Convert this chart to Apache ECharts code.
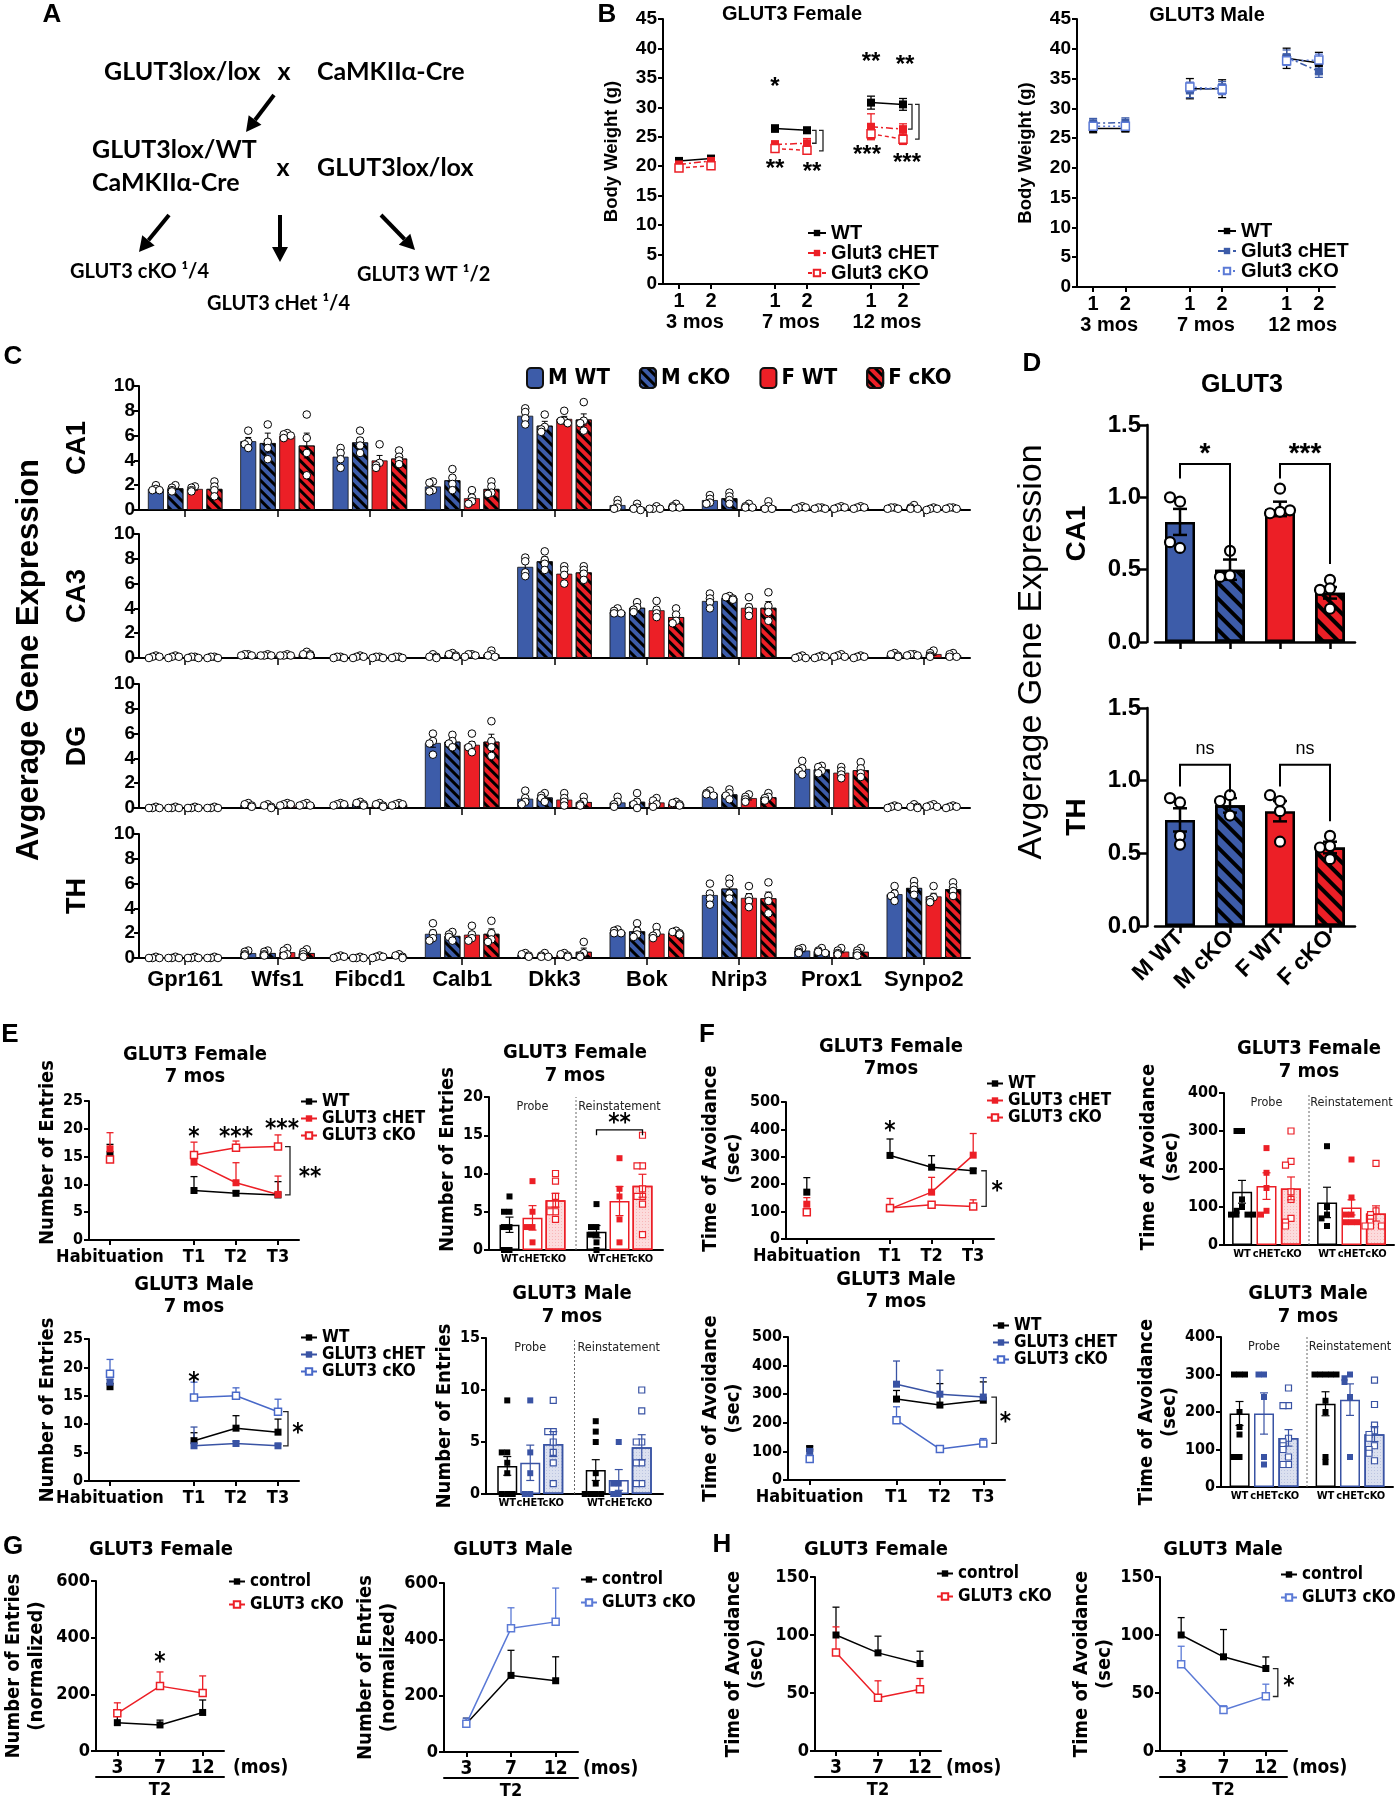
<!DOCTYPE html>
<html><head><meta charset="utf-8"><title>GLUT3 figure</title>
<script src="https://cdn.jsdelivr.net/npm/echarts@6/dist/echarts.min.js"></script>
<style>html,body{margin:0;padding:0;background:#fff;}#chart{width:1397px;height:1800px;}</style>
</head><body><div id="chart"></div>
<script>
// ======================= DATA =======================
// Panel A
const crossTop = ['GLUT3lox/lox', 'x', 'CaMKIIα-Cre'];
const crossMid = ['GLUT3lox/WT', 'CaMKIIα-Cre', 'x', 'GLUT3lox/lox'];
const offspring = ['GLUT3 cKO ¹/4', 'GLUT3 cHet ¹/4', 'GLUT3 WT ¹/2'];

// Panel B (body weight)
const bCats = ['1', '2', '', '1', '2', '', '1', '2'];
const bGroupLabels = ['3 mos', '7 mos', '12 mos'];
const bGroupPos = [1, 4, 7];
const bFemWT = [20.9, 21.3, null, 26.4, 26.1, null, 30.8, 30.5];
const bFemWTErr = [0.4, 0.4, null, 0.6, 0.5, null, 1.1, 1.0];
const bFemHET = [20.3, 20.9, null, 23.7, 23.9, null, 26.7, 26.3];
const bFemHETErr = [0.5, 0.4, null, 0.6, 0.8, null, 2.2, 0.9];
const bFemKO = [19.7, 20.1, null, 23.0, 22.7, null, 25.5, 24.6];
const bFemKOErr = [0.4, 0.4, null, 0.4, 0.5, null, 0.8, 0.9];
const bMalWT = [26.6, 26.6, null, 33.3, 33.3, null, 38.4, 37.6];
const bMalWTErr = [0.7, 0.5, null, 1.7, 1.5, null, 1.7, 1.8];
const bMalHET = [27.5, 27.6, null, 33.0, 33.5, null, 38.6, 36.2];
const bMalHETErr = [0.8, 0.8, null, 1.2, 1.0, null, 1.2, 1.0];
const bMalKO = [27.0, 27.0, null, 33.6, 33.2, null, 38.0, 38.1];
const bMalKOErr = [0.6, 0.6, null, 0.8, 0.9, null, 0.8, 1.0];

// Panel C (per gene: [M WT, M cKO, F WT, F cKO])
const genes = ['Gpr161', 'Wfs1', 'Fibcd1', 'Calb1', 'Dkk3', 'Bok', 'Nrip3', 'Prox1', 'Synpo2'];
const cGroups = ['M WT', 'M cKO', 'F WT', 'F cKO'];
const regions = ['CA1', 'CA3', 'DG', 'TH'];
const cMeanCA1 = [[1.7,1.75,1.7,1.7],[5.55,5.4,6.0,5.2],[4.3,5.45,4.0,4.15],[1.9,2.4,0.95,1.7],[7.6,6.8,7.35,7.3],[0.4,0.2,0.15,0.3],[0.8,0.95,0.3,0.3],[0.2,0.15,0.2,0.2],[0.15,0.2,0.1,0.15]];
const cSemCA1 = [[0.1,0.1,0.1,0.25],[0.3,0.8,0.1,1.0],[0.35,0.4,0.4,0.25],[0.2,0.35,0.25,0.25],[0.3,0.35,0.2,0.45],[0.15,0.1,0.05,0.07],[0.15,0.2,0.07,0.15],[0.05,0.05,0.05,0.05],[0.05,0.05,0.05,0.05]];
const cDotsCA1 = [
 [[2.0,1.7,1.6,1.6],[2.0,1.8,1.6,1.5],[1.9,1.8,1.6,1.5],[2.3,1.9,1.6,1.1]],
 [[6.4,5.5,5.3,5.0],[6.9,5.5,5.0,4.1],[6.2,6.1,6.0,5.8],[7.7,5.8,4.6,2.8]],
 [[5.0,4.6,4.1,3.4],[6.4,5.6,5.2,4.6],[5.3,3.8,3.6,3.4],[4.8,4.3,4.0,3.7]],
 [[2.3,2.2,1.6,1.5],[3.3,2.6,2.1,1.6],[1.6,1.0,0.7,0.5],[2.3,1.9,1.4,1.3]],
 [[8.2,7.9,7.4,6.9],[7.7,6.7,6.5,6.3],[8.0,7.2,7.2,7.0],[8.7,7.2,7.0,6.4]],
 [[0.8,0.5,0.2,0.1],[0.5,0.2,0.1,0.0],[0.3,0.1,0.1,0.1],[0.5,0.3,0.2,0.2]],
 [[1.2,0.9,0.6,0.5],[1.4,1.1,0.8,0.5],[0.5,0.3,0.2,0.2],[0.7,0.3,0.1,0.1]],
 [[0.3,0.2,0.2,0.1],[0.2,0.2,0.1,0.1],[0.3,0.2,0.2,0.1],[0.3,0.2,0.2,0.1]],
 [[0.2,0.2,0.1,0.1],[0.4,0.2,0.1,0.1],[0.2,0.1,0.1,0.0],[0.2,0.2,0.1,0.1]]];
const cMeanCA3 = [[0.1,0.1,0.05,0.05],[0.25,0.22,0.22,0.32],[0.05,0.1,0.05,0.05],[0.12,0.25,0.22,0.3],[7.35,7.8,6.8,6.9],[3.75,4.05,3.85,3.3],[4.6,4.85,4.05,4.05],[0.08,0.1,0.18,0.1],[0.25,0.25,0.32,0.22]];
const cSemCA3 = [[0.04,0.03,0.03,0.03],[0.03,0.03,0.03,0.07],[0.03,0.04,0.03,0.03],[0.07,0.07,0.05,0.1],[0.35,0.35,0.3,0.25],[0.1,0.2,0.25,0.25],[0.25,0.1,0.3,0.5],[0.05,0.05,0.05,0.05],[0.07,0.03,0.1,0.07]];
const cDotsCA3 = [
 [[0.2,0.1,0.1,0.0],[0.2,0.1,0.1,0.0],[0.1,0.1,0.0,0.0],[0.1,0.1,0.0,0.0]],
 [[0.3,0.3,0.2,0.2],[0.3,0.2,0.2,0.2],[0.3,0.2,0.2,0.2],[0.5,0.3,0.3,0.2]],
 [[0.1,0.1,0.0,0.0],[0.2,0.1,0.1,0.0],[0.1,0.1,0.0,0.0],[0.1,0.1,0.0,0.0]],
 [[0.3,0.1,0.1,0.0],[0.4,0.3,0.2,0.1],[0.3,0.3,0.2,0.1],[0.6,0.3,0.2,0.1]],
 [[8.1,7.8,6.9,6.6],[8.6,7.9,7.6,7.1],[7.4,7.1,6.7,6.0],[7.4,7.1,6.8,6.3]],
 [[4.0,3.8,3.6,3.6],[4.5,4.1,3.9,3.7],[4.6,3.9,3.6,3.3],[4.0,3.5,3.0,2.8]],
 [[5.2,4.8,4.5,4.0],[5.0,4.9,4.8,4.7],[4.9,4.1,3.8,3.4],[5.3,4.2,3.7,3.0]],
 [[0.2,0.1,0.0,0.0],[0.2,0.1,0.1,0.0],[0.3,0.2,0.1,0.1],[0.2,0.1,0.1,0.0]],
 [[0.4,0.3,0.2,0.1],[0.3,0.3,0.2,0.2],[0.6,0.4,0.2,0.1],[0.4,0.3,0.1,0.1]]];
const cMeanDG = [[0.03,0.03,0.03,0.03],[0.25,0.15,0.3,0.28],[0.3,0.35,0.25,0.3],[5.25,5.35,5.1,5.35],[0.75,0.85,0.68,0.48],[0.45,0.5,0.45,0.35],[1.17,1.1,0.8,0.87],[3.15,3.12,2.85,3.05],[0.1,0.12,0.18,0.1]];
const cSemDG = [[0.02,0.02,0.02,0.02],[0.06,0.06,0.04,0.04],[0.04,0.06,0.04,0.04],[0.35,0.2,0.25,0.6],[0.25,0.15,0.2,0.15],[0.15,0.25,0.15,0.07],[0.1,0.15,0.15,0.12],[0.25,0.13,0.2,0.25],[0.04,0.06,0.05,0.04]];
const cDotsDG = [
 [[0.1,0.0,0.0,0.0],[0.1,0.0,0.0,0.0],[0.1,0.0,0.0,0.0],[0.1,0.0,0.0,0.0]],
 [[0.4,0.3,0.2,0.1],[0.3,0.2,0.1,0.0],[0.4,0.3,0.3,0.2],[0.4,0.3,0.2,0.2]],
 [[0.4,0.3,0.3,0.2],[0.5,0.4,0.3,0.2],[0.4,0.3,0.2,0.1],[0.4,0.3,0.3,0.2]],
 [[6.0,5.4,5.2,4.3],[5.9,5.4,5.2,4.9],[6.0,5.1,4.9,4.5],[7.0,5.4,4.9,4.2]],
 [[1.4,0.8,0.5,0.3],[1.2,1.0,0.8,0.5],[1.2,0.8,0.5,0.2],[0.9,0.5,0.3,0.2]],
 [[0.9,0.5,0.3,0.1],[1.2,0.5,0.3,0.0],[0.8,0.6,0.3,0.1],[0.5,0.4,0.3,0.2]],
 [[1.4,1.2,1.1,1.0],[1.5,1.2,1.0,0.7],[1.1,0.9,0.7,0.5],[1.2,0.9,0.8,0.6]],
 [[3.8,3.2,3.0,2.7],[3.4,3.3,3.0,2.8],[3.3,3.0,2.7,2.4],[3.7,3.2,2.8,2.5]],
 [[0.2,0.1,0.1,0.0],[0.3,0.1,0.1,0.0],[0.3,0.2,0.1,0.1],[0.2,0.1,0.1,0.0]]];
const cMeanTH = [[0.02,0.02,0.02,0.02],[0.4,0.4,0.47,0.4],[0.1,0.03,0.1,0.15],[1.95,1.78,1.88,1.95],[0.25,0.2,0.25,0.5],[2.12,2.15,1.97,2.05],[5.08,5.6,4.85,4.82],[0.6,0.57,0.52,0.5],[5.15,5.65,4.97,5.55]];
const cSemTH = [[0.02,0.02,0.02,0.02],[0.08,0.08,0.13,0.12],[0.04,0.02,0.04,0.06],[0.3,0.15,0.25,0.4],[0.06,0.06,0.06,0.3],[0.1,0.25,0.2,0.07],[0.35,0.35,0.35,0.5],[0.1,0.1,0.1,0.13],[0.25,0.2,0.25,0.22]];
const cDotsTH = [
 [[0.1,0.0,0.0,0.0],[0.1,0.0,0.0,0.0],[0.1,0.0,0.0,0.0],[0.1,0.0,0.0,0.0]],
 [[0.6,0.5,0.3,0.2],[0.6,0.5,0.3,0.2],[0.8,0.6,0.3,0.2],[0.7,0.5,0.3,0.1]],
 [[0.2,0.1,0.1,0.0],[0.1,0.0,0.0,0.0],[0.2,0.1,0.1,0.0],[0.3,0.2,0.1,0.0]],
 [[2.8,2.0,1.6,1.4],[2.1,1.9,1.7,1.4],[2.6,1.9,1.6,1.4],[3.0,2.0,1.5,1.3]],
 [[0.4,0.3,0.2,0.1],[0.4,0.2,0.1,0.1],[0.4,0.3,0.2,0.1],[1.3,0.4,0.2,0.1]],
 [[2.3,2.2,2.0,2.0],[2.8,2.2,1.9,1.7],[2.5,2.0,1.8,1.6],[2.2,2.1,2.0,1.9]],
 [[6.0,5.2,4.8,4.3],[6.4,6.0,5.2,4.8],[5.8,4.9,4.6,4.1],[6.1,5.0,4.6,3.6]],
 [[0.8,0.7,0.5,0.4],[0.8,0.6,0.5,0.4],[0.8,0.6,0.4,0.3],[0.8,0.6,0.4,0.2]],
 [[5.8,5.2,5.0,4.6],[6.2,5.8,5.5,5.1],[5.8,4.9,4.7,4.5],[6.1,5.7,5.4,5.0]]];

// Panel D
const dCats = ['M WT', 'M cKO', 'F WT', 'F cKO'];
const dCA1Mean = [0.83, 0.50, 0.92, 0.34];
const dCA1Err = [0.09, 0.07, 0.05, 0.04];
const dCA1Dots = [[0.97, 1.0, 0.65, 0.69], [0.63, 0.46, 0.45], [1.06, 0.9, 0.89, 0.91], [0.43, 0.37, 0.36, 0.23]];
const dTHMean = [0.73, 0.83, 0.79, 0.54];
const dTHErr = [0.08, 0.05, 0.07, 0.04];
const dTHDots = [[0.85, 0.88, 0.62, 0.56], [0.9, 0.86, 0.76], [0.86, 0.9, 0.79, 0.58], [0.62, 0.55, 0.54, 0.46]];

// Panel E / F line charts
const lineCats = ['Habituation', '', 'T1', 'T2', 'T3'];
const eFemWT = [15.4, null, 8.9, 8.4, 8.1],   eFemWTErr = [1.8, null, 2.5, 0.4, 2.4];
const eFemHET = [16.4, null, 14.0, 10.3, 8.2], eFemHETErr = [2.9, null, 1.6, 3.6, 3.3];
const eFemKO = [14.5, null, 15.3, 16.6, 16.8], eFemKOErr = [0.5, null, 2.3, 1.2, 2.1];
const eMalWT = [16.6, null, 7.1, 9.3, 8.6],    eMalWTErr = [0.6, null, 1.4, 2.2, 2.3];
const eMalHET = [17.4, null, 6.2, 6.6, 6.2],   eMalHETErr = [0.5, null, 3.3, 0.4, 0.3];
const eMalKO = [18.9, null, 14.7, 15.0, 12.2], eMalKOErr = [2.5, null, 2.7, 1.4, 2.2];
const fFemWT = [171, null, 305, 262, 249], fFemWTErr = [53, null, 60, 42, 8];
const fFemHET = [127, null, 110, 171, 306], fFemHETErr = [24, null, 38, 54, 79];
const fFemKO = [98, null, 113, 125, 119], fFemKOErr = [6, null, 8, 8, 24];
const fMalWT = [110, null, 283, 262, 279], fMalWTErr = [8, null, 30, 75, 64];
const fMalHET = [100, null, 335, 300, 290], fMalHETErr = [6, null, 81, 84, 68];
const fMalKO = [73, null, 209, 108, 128], fMalKOErr = [6, null, 47, 8, 17];

// Panel E / F bar charts: [Probe, Reinstatement] x [WT, cHET, cKO]
const barGroups = ['Probe', 'Reinstatement'];
const barSub = ['WT', 'cHET', 'cKO'];
const eFemBarMean = [[3.3, 4.2, 6.5], [2.4, 6.4, 8.4]];
const eFemBarErr = [[1.0, 1.6, 0.9], [0.8, 1.9, 1.5]];
const eFemBarDots = [[[7,5,5,3,3,0,0],[9,5,3,3,1],[10,9,7,6,6,5,5,4]],[[6,3,3,2,2,1,0],[12,8,7,4,1],[15,11,11,8,7,7,6,2]]];
const eMalBarMean = [[2.7, 3.0, 4.8], [2.3, 1.35, 4.5]];
const eMalBarErr = [[0.9, 1.7, 1.2], [1.0, 1.0, 1.2]];
const eMalBarDots = [[[9,4,4,3,2,0,0,0],[9,4,2,0,0],[9,6,6,5,4,3,1]],[[7,6,5,2,1,0,0,0,0],[5,1,1,0,0],[10,8,5,5,3,3,1,1]]];
const fFemBarMean = [[140, 155, 149], [112, 99, 83]];
const fFemBarErr = [[30, 35, 30], [40, 20, 20]];
const fFemBarDots = [[[300,300,120,100,90,80,80,80,80],[255,190,150,90,80],[300,220,210,140,120,70,60,50]],[[260,100,80,70,50],[225,125,80,80,60,60,60],[215,90,80,70,60,50,50,50]]];
const fMalBarMean = [[196, 196, 131], [222, 233, 141]];
const fMalBarErr = [[32, 55, 22], [32, 42, 20]];
const fMalBarDots = [[[300,300,300,200,160,140,80,80],[300,300,240,80,60],[264,217,217,130,120,110,100,80,60,60]],[[300,300,300,300,300,230,200,80,66],[300,290,280,240,80],[285,220,165,150,140,130,110,100,90,70]]];

// Panel G / H
const ghCats = ['3', '7', '12'];
const ghUnit = '(mos)';
const ghGroup = ['T2'];
const gFemCtrl = [100, 92, 136], gFemCtrlErr = [23, 17, 44];
const gFemKO = [133, 229, 205], gFemKOErr = [37, 50, 60];
const gMalCtrl = [100, 272, 253], gMalCtrlErr = [20, 89, 85];
const gMalKO = [100, 439, 462], gMalKOErr = [20, 73, 120];
const hFemCtrl = [100, 84.6, 75.4], hFemCtrlErr = [24, 14.4, 10.6];
const hFemKO = [85, 46, 53.3], hFemKOErr = [22, 14.5, 9.2];
const hMalCtrl = [100, 81.2, 71.1], hMalCtrlErr = [15, 23.5, 10];
const hMalKO = [74.8, 35.3, 47.3], hMalKOErr = [15.5, 3.7, 10.3];

// ======================= STYLE / HELPERS =======================
const AR = "'Liberation Sans', Arial, Helvetica, sans-serif";
const NW = "'Liberation Sans Narrow', 'Arial Narrow', 'DejaVu Sans Condensed', sans-serif";
const CB = "Lato, 'Open Sans', sans-serif";
const RED = '#ec1f26', BLUE = '#3d5ca9', BLUE_L = '#5b7ad6', EBLUE = '#3953a4', EBLUE_L = '#4868c8';
const JIT = [0, -1, 1, -2, 2, -3, 3, -4, 4, -5, 5, -6, 6];

const grid = [], xAxis = [], yAxis = [], series = [], legend = [], graphic = [];
function G(l, t, w, h) { grid.push({ left: l, top: t, width: w, height: h }); return grid.length - 1; }
function X(o) { xAxis.push(o); return xAxis.length - 1; }
function Y(o) { yAxis.push(o); return yAxis.length - 1; }
const axLine = w => ({ show: true, lineStyle: { color: '#000', width: w } });
function yAx(gi, max, itv, ff, fs, ex) {
  return Y(Object.assign({ type: 'value', gridIndex: gi, min: 0, max: max, interval: itv, splitLine: { show: false },
    axisLine: axLine(2), axisTick: { show: true, length: 5, lineStyle: { color: '#000', width: 2 } },
    axisLabel: { color: '#000', fontFamily: ff, fontWeight: 'bold', fontSize: fs, margin: 6 } }, ex || {}));
}
function yName(name, gap, ff, fs, lh, fw, shiftUp) {
  const st = { color: '#000', fontFamily: ff, fontSize: fs, fontWeight: fw || 'bold', lineHeight: lh || fs };
  if (shiftUp) st.padding = [0, 0, 0, 2 * shiftUp];
  return { name: name, nameLocation: 'middle', nameGap: gap, nameTextStyle: st };
}
function catX(gi, data, ex) {
  return X(Object.assign({ type: 'category', gridIndex: gi, data: data, axisLine: axLine(2),
    axisTick: { show: true, alignWithLabel: true, length: 5, lineStyle: { color: '#000', width: 2 }, interval: (i, v) => v !== '' },
    axisLabel: { color: '#000', fontFamily: NW, fontWeight: 'bold', fontSize: 18, margin: 8, interval: 0 } }, ex || {}));
}
function lineS(name, xi, yi, data, color, o) {
  o = o || {};
  return { type: 'line', name: name, xAxisIndex: xi, yAxisIndex: yi, data: data, connectNulls: false, z: 3,
    symbol: 'rect', symbolSize: o.size || 7, showSymbol: true, silent: true,
    lineStyle: { color: color, width: o.lw || 1.5, type: o.dash || 'solid' },
    itemStyle: { color: o.open ? '#fff' : color, borderColor: color, borderWidth: o.open ? 1.5 : 0 } };
}
function toItems(data, err) { return data.map((v, i) => v == null ? null : [i, v, err[i], 0]).filter(a => a); }
function errS(xi, yi, items, o) {
  return { type: 'custom', xAxisIndex: xi, yAxisIndex: yi, silent: true, z: o.z || 4, clip: false, data: items,
    renderItem: function (params, api) {
      const it = items[params.dataIndex];
      const m = api.coord([it[0], it[1]]), t = api.coord([it[0], it[1] + it[2]]), b = api.coord([it[0], o.both ? it[1] - it[2] : it[1]]);
      const x = m[0] + (it[3] - (o.n - 1) / 2) * (o.slot || 0);
      const c = o.color(it[3]), w = o.cap / 2;
      const ch = [{ type: 'line', shape: { x1: x, y1: b[1], x2: x, y2: t[1] }, style: { stroke: c, lineWidth: o.lw } },
                  { type: 'line', shape: { x1: x - w, y1: t[1], x2: x + w, y2: t[1] }, style: { stroke: c, lineWidth: o.lw } }];
      if (o.both) ch.push({ type: 'line', shape: { x1: x - w, y1: b[1], x2: x + w, y2: b[1] }, style: { stroke: c, lineWidth: o.lw } });
      return { type: 'group', children: ch };
    } };
}
function dotsS(xi, yi, items, o) {
  const offs = items.map((it, idx) => { let r = 0; for (let i = 0; i < idx; i++) { const q = items[i]; if (q[0] === it[0] && q[2] === it[2] && Math.abs(q[1] - it[1]) <= o.tol) r++; } return JIT[r] || 0; });
  return { type: 'custom', xAxisIndex: xi, yAxisIndex: yi, silent: true, z: o.z || 5, clip: false, data: items,
    renderItem: function (params, api) {
      const it = items[params.dataIndex]; const p = api.coord([it[0], it[1]]);
      const x = p[0] + (it[2] - (o.n - 1) / 2) * o.slot + offs[params.dataIndex] * o.s;
      const st = o.style(it[2]);
      if (o.shape === 'circle') return { type: 'circle', shape: { cx: x, cy: p[1], r: o.r }, style: st };
      return { type: 'rect', shape: { x: x - o.r, y: p[1] - o.r, width: 2 * o.r, height: 2 * o.r }, style: st };
    } };
}
function annS(xi, yi, specs) {
  return { type: 'custom', xAxisIndex: xi, yAxisIndex: yi, silent: true, z: 7, clip: false,
    data: specs.map(s => [s.x, s.y]),
    renderItem: function (params, api) {
      const s = specs[params.dataIndex]; const band = api.size([1, 0])[0];
      const P = (x, y) => api.coord([x, y]);
      if (s.t === 'text') {
        const p = P(s.x, s.y); const fs = s.fs || 24; const star = /^\*+$/.test(s.text);
        return { type: 'text', x: p[0] + (s.dx || 0) + (s.fx || 0) * band, y: p[1] + (s.dy || 0) + (star ? fs * 0.22 : 0),
          style: { text: s.text, fill: '#000', fontSize: fs, fontFamily: s.ff || NW, fontWeight: s.fw || 'bold', align: 'center', verticalAlign: 'middle' } };
      }
      if (s.t === 'br') {
        const a = P(s.x, s.y), b = P(s.x, s.y2); const x = a[0] + s.dx; const w = s.w || 5;
        return { type: 'polyline', shape: { points: [[x - w, a[1]], [x, a[1]], [x, b[1]], [x - w, b[1]]] }, style: { stroke: '#222', lineWidth: s.lw || 1.3, fill: 'none' } };
      }
      if (s.t === 'sig') {
        const a = P(s.x, s.y), b = P(s.x2, s.y), l = P(s.x, s.ya), r = P(s.x2, s.yb);
        const xa = a[0] + (s.dx || 0), xb = b[0] + (s.dx2 || 0);
        return { type: 'polyline', shape: { points: [[xa, l[1]], [xa, a[1]], [xb, a[1]], [xb, r[1]]] }, style: { stroke: '#000', lineWidth: s.lw || 1.5, fill: 'none' } };
      }
      if (s.t === 'vline') {
        const a = P(s.x, s.y), b = P(s.x, s.y2); const x = a[0] + (s.fx || 0) * band;
        return { type: 'line', shape: { x1: x, y1: a[1], x2: x, y2: b[1] }, style: { stroke: '#666', lineWidth: 1, lineDash: [2, 2] } };
      }
      return null;
    } };
}
function leg(names, left, top, o) {
  legend.push({ show: true, orient: 'vertical', left: left, top: top, padding: 0, itemGap: 0, itemWidth: o.iw || 16, itemHeight: o.ih || 8,
    data: names, selectedMode: false, formatter: n => n.split('|')[0],
    textStyle: { color: '#000', fontFamily: o.ff || NW, fontWeight: 'bold', fontSize: o.fs || 17, lineHeight: o.lh || 16 } });
}
function T(text, x, y, o) {
  o = o || {};
  graphic.push({ type: 'text', x: x, y: y, rotation: o.rot || 0, silent: true,
    style: { text: text, fill: '#000', fontSize: o.fs || 18, fontWeight: o.fw || 'bold', fontFamily: o.ff || AR,
      align: o.align || 'center', verticalAlign: 'middle', textAlign: o.align || 'center', textVerticalAlign: 'middle', lineHeight: o.lh || undefined } });
}
function arrow(x1, y1, x2, y2) {
  const ang = Math.atan2(y2 - y1, x2 - x1), L = 15, W = 8;
  const bx = x2 - L * Math.cos(ang), by = y2 - L * Math.sin(ang);
  const px = -Math.sin(ang) * W, py = Math.cos(ang) * W;
  graphic.push({ type: 'line', silent: true, shape: { x1: x1, y1: y1, x2: bx, y2: by }, style: { stroke: '#000', lineWidth: 4 } });
  graphic.push({ type: 'polygon', silent: true, shape: { points: [[x2, y2], [bx + px, by + py], [bx - px, by - py]] }, style: { fill: '#000' } });
}

// ======================= PANEL A =======================
T('A', 52, 15, { fs: 26 });
T(crossTop[0], 104, 72, { ff: CB, fs: 25, align: 'left' });
T(crossTop[1], 284, 72, { ff: CB, fs: 25 });
T(crossTop[2], 317, 72, { ff: CB, fs: 25, align: 'left' });
arrow(274, 95, 246, 132);
T(crossMid[0], 92, 150, { ff: CB, fs: 25, align: 'left' });
T(crossMid[1], 92, 183, { ff: CB, fs: 25, align: 'left' });
T(crossMid[2], 283, 168, { ff: CB, fs: 25 });
T(crossMid[3], 317, 168, { ff: CB, fs: 25, align: 'left' });
arrow(169, 215, 139, 252);
arrow(280, 215, 280, 262);
arrow(381, 215, 415, 250);
T(offspring[0], 70, 272, { ff: CB, fs: 20, align: 'left' });
T(offspring[1], 207, 304, { ff: CB, fs: 20, align: 'left' });
T(offspring[2], 357, 275, { ff: CB, fs: 20, align: 'left' });

// ======================= PANEL B =======================
T('B', 607, 15, { fs: 26 });
function panelB(gl, gt, gw, gh, sets, legLeft, legTop, legLH, ann) {
  const gi = G(gl, gt, gw, gh);
  const xi = catX(gi, bCats, { axisLabel: { color: '#000', fontFamily: AR, fontWeight: 'bold', fontSize: 20, margin: 7, interval: 0 } });
  X({ type: 'value', gridIndex: gi, position: 'bottom', offset: 21, min: 0, max: 8, interval: 1, axisLine: { show: false }, axisTick: { show: false }, splitLine: { show: false },
    axisLabel: { color: '#000', fontFamily: AR, fontWeight: 'bold', fontSize: 20, margin: 7, formatter: v => { const k = bGroupPos.indexOf(v); return k < 0 ? '' : bGroupLabels[k]; } } });
  const yi = yAx(gi, 45, 5, AR, 19, yName('Body Weight (g)', 42, AR, 18.5));
  sets.forEach(s => {
    series.push(errS(xi, yi, toItems(s.data, s.err), { both: true, cap: 8, lw: 1.3, n: 1, color: () => s.color, z: 2 }));
    series.push(lineS(s.name, xi, yi, s.data, s.color, { dash: s.dash, open: s.open, size: 8 }));
  });
  leg(sets.map(s => s.name), legLeft, legTop, { ff: AR, fs: 20, lh: legLH, iw: 18, ih: 8 });
  series.push(annS(xi, yi, ann));
}
T('GLUT3 Female', 792, 14, { fs: 20 });
panelB(663, 19, 256, 265, [
  { name: 'WT|bF', data: bFemWT, err: bFemWTErr, color: '#000' },
  { name: 'Glut3 cHET|bF', data: bFemHET, err: bFemHETErr, color: RED, dash: [7, 3, 2, 3] },
  { name: 'Glut3 cKO|bF', data: bFemKO, err: bFemKOErr, color: RED, dash: [4, 3], open: true }
], 807, 223, 17, [
  { t: 'text', x: 3, y: 34.3, text: '*', ff: AR },
  { t: 'text', x: 3, y: 20.3, text: '**', ff: AR },
  { t: 'text', x: 4, y: 19.9, text: '**', dx: 5, ff: AR },
  { t: 'text', x: 6, y: 38.6, text: '**', ff: AR },
  { t: 'text', x: 7, y: 38.1, text: '**', dx: 2, ff: AR },
  { t: 'text', x: 6, y: 22.7, text: '***', dx: -4, ff: AR },
  { t: 'text', x: 7, y: 21.4, text: '***', dx: 4, ff: AR },
  { t: 'br', x: 4, y: 26.1, y2: 23.9, dx: 9, w: 4 },
  { t: 'br', x: 4, y: 26.1, y2: 22.6, dx: 16, w: 4 },
  { t: 'br', x: 7, y: 30.5, y2: 26.3, dx: 9, w: 4 },
  { t: 'br', x: 7, y: 30.5, y2: 24.6, dx: 16, w: 4 }
]);
T('GLUT3 Male', 1207, 15, { fs: 20 });
panelB(1077, 19, 258, 268, [
  { name: 'WT|bM', data: bMalWT, err: bMalWTErr, color: '#000' },
  { name: 'Glut3 cHET|bM', data: bMalHET, err: bMalHETErr, color: BLUE, dash: [7, 3, 2, 3] },
  { name: 'Glut3 cKO|bM', data: bMalKO, err: bMalKOErr, color: BLUE_L, dash: [2, 3], open: true }
], 1217, 221, 18, []);

// ======================= PANEL C =======================
T('C', 13, 357, { fs: 26 });
T('Avgerage Gene Expression', 29, 660, { fs: 31, rot: Math.PI / 2 });
const hatchC = { symbol: 'rect', symbolSize: 1, color: '#000', dashArrayX: [1, 0], dashArrayY: [2.2, 4], rotation: Math.PI / 4 };
const cStyle = [
  { color: BLUE, borderColor: '#111', borderWidth: 0.8 },
  { color: BLUE, borderColor: '#111', borderWidth: 0.8, decal: hatchC },
  { color: RED, borderColor: '#111', borderWidth: 0.8 },
  { color: RED, borderColor: '#111', borderWidth: 0.8, decal: hatchC }];
const cTops = [386, 534, 684, 834];
const cMeans = [cMeanCA1, cMeanCA3, cMeanDG, cMeanTH];
const cSems = [cSemCA1, cSemCA3, cSemDG, cSemTH];
const cDots = [cDotsCA1, cDotsCA3, cDotsDG, cDotsTH];
regions.forEach((rg, r) => {
  const gi = G(139, cTops[r], 831, 124);
  const xi = catX(gi, genes, { axisTick: { show: true, alignWithLabel: true, length: 7, lineStyle: { color: '#000', width: 1.5 } },
    axisLabel: { show: r === 3, color: '#000', fontFamily: AR, fontWeight: 'bold', fontSize: 22, margin: 11, interval: 0 } });
  const yi = yAx(gi, 10, 2, AR, 19, yName(rg, 48, AR, 27));
  yAxis[yi].axisLabel.margin = 4;
  cGroups.forEach((gn, k) => series.push({ type: 'bar', name: gn, xAxisIndex: xi, yAxisIndex: yi, barWidth: 16, barGap: '22%', silent: true,
    data: cMeans[r].map(m => m[k]), itemStyle: cStyle[k] }));
  const eItems = []; cMeans[r].forEach((m, g) => m.forEach((v, k) => eItems.push([g, v, cSems[r][g][k], k])));
  series.push(errS(xi, yi, eItems, { both: true, cap: 6, lw: 1, n: 4, slot: 19.5, color: () => '#000', z: 4 }));
  const dItems = []; cDots[r].forEach((gd, g) => gd.forEach((arr, k) => arr.forEach(v => dItems.push([g, v, k]))));
  series.push(dotsS(xi, yi, dItems, { n: 4, slot: 19.5, s: 3.5, tol: 0.22, r: 3.8, shape: 'circle', style: () => ({ fill: '#fff', stroke: '#000', lineWidth: 1 }) }));
});
legend.push({ orient: 'horizontal', left: 526, top: 367, padding: 0, itemGap: 29, itemWidth: 16, itemHeight: 20, data: cGroups, selectedMode: false,
  textStyle: { color: '#000', fontFamily: NW, fontWeight: 'bold', fontSize: 22 } });

// ======================= PANEL D =======================
T('D', 1032, 364, { fs: 26 });
T('GLUT3', 1242, 385, { fs: 25 });
T('Avgerage Gene Expression', 1032, 652, { fs: 34, fw: 'normal', rot: Math.PI / 2 });
const hatchD = { symbol: 'rect', symbolSize: 1, color: '#000', dashArrayX: [1, 0], dashArrayY: [3.5, 6.5], rotation: Math.PI / 4 };
const dTops = [425, 708], dHeights = [217, 218];
const dSets = [
  ['CA1', dCA1Mean, dCA1Err, dCA1Dots, [
    { t: 'sig', x: 0, x2: 1, y: 1.23, ya: 1.13, yb: 0.55, lw: 2 },
    { t: 'sig', x: 2, x2: 3, y: 1.23, ya: 1.13, yb: 0.54, lw: 2 },
    { t: 'text', x: 0, y: 1.34, fx: 0.5, text: '*', ff: AR, fs: 28 },
    { t: 'text', x: 2, y: 1.34, fx: 0.5, text: '***', ff: AR, fs: 28 }]],
  ['TH', dTHMean, dTHErr, dTHDots, [
    { t: 'sig', x: 0, x2: 1, y: 1.11, ya: 0.96, yb: 0.92, lw: 2 },
    { t: 'sig', x: 2, x2: 3, y: 1.11, ya: 0.96, yb: 0.72, lw: 2 },
    { t: 'text', x: 0, y: 1.22, fx: 0.5, text: 'ns', ff: AR, fs: 18, fw: 'normal' },
    { t: 'text', x: 2, y: 1.22, fx: 0.5, text: 'ns', ff: AR, fs: 18, fw: 'normal' }]]];
dSets.forEach((d, r) => {
  const [rg, mean, err, dots, ann] = d;
  const gi = G(1155, dTops[r], 200, dHeights[r]);
  const xi = catX(gi, dCats, { axisLine: axLine(2.5), axisTick: { show: true, alignWithLabel: true, length: 7, lineStyle: { color: '#000', width: 2.5 } },
    axisLabel: { show: r === 1, rotate: 45, color: '#000', fontFamily: AR, fontWeight: 'bold', fontSize: 23, margin: 8, interval: 0 } });
  const yi = yAx(gi, 1.5, 0.5, AR, 24, Object.assign({ offset: 8, axisLine: axLine(2.5), axisTick: { show: true, length: 7, lineStyle: { color: '#000', width: 2.5 } } }, yName(rg, 56, AR, 28)));
  yAxis[yi].axisLabel.formatter = v => v.toFixed(1);
  series.push({ type: 'bar', name: 'GLUT3 ' + rg, xAxisIndex: xi, yAxisIndex: yi, barWidth: 30, silent: true,
    data: mean.map((v, i) => { const st = { color: i < 2 ? BLUE : RED, borderColor: '#000', borderWidth: 2.5 }; if (i % 2) st.decal = hatchD; return { value: v, itemStyle: st }; }) });
  series.push(errS(xi, yi, mean.map((v, i) => [i, v, err[i], 0]), { both: true, cap: 14, lw: 2.5, n: 1, color: () => '#000', z: 4 }));
  const dItems = []; dots.forEach((arr, i) => arr.forEach(v => dItems.push([i, v, 0])));
  series.push(dotsS(xi, yi, dItems, { n: 1, slot: 0, s: 10, tol: 0.05, r: 5, shape: 'circle', style: () => ({ fill: '#fff', stroke: '#000', lineWidth: 2.2 }) }));
  series.push(annS(xi, yi, ann));
});

// ======================= PANELS E / F =======================
T('E', 10, 1035, { fs: 26 });
T('F', 707, 1035, { fs: 26 });
function behavLine(gl, gt, gw, gh, ymax, itv, sets, yname, ygap, shift, legLeft, legTop, legLH, ann) {
  const gi = G(gl, gt, gw, gh);
  const xi = catX(gi, lineCats);
  const yi = yAx(gi, ymax, itv, NW, 16, yName(yname, ygap, NW, 20, 23, 'bold', shift));
  sets.forEach(s => {
    series.push(errS(xi, yi, toItems(s.data, s.err), { both: false, cap: 7, lw: 1.3, n: 1, color: () => s.color, z: 1 }));
    series.push(lineS(s.name, xi, yi, s.data, s.color, { open: s.open, size: 7 }));
  });
  leg(sets.map(s => s.name), legLeft, legTop, { fs: 17, lh: legLH, iw: 16, ih: 8 });
  series.push(annS(xi, yi, ann));
}
function behavBar(gl, gt, gw, gh, ymax, itv, mean, err, dots, color, slot, bw, gap, yname, ygap, shift, tag, ann) {
  const gi = G(gl, gt, gw, gh);
  const xi = X({ type: 'category', gridIndex: gi, data: barGroups, axisLine: axLine(2), axisTick: { show: false },
    axisLabel: { interval: 0, margin: 4, formatter: () => barSub.map(s => '{a|' + s + '}').join(''),
      rich: { a: { width: slot, align: 'center', fontFamily: NW, fontWeight: 'bold', fontSize: 11, color: '#000' } } } });
  X({ type: 'category', gridIndex: gi, data: barGroups, position: 'top', axisLine: { show: false }, axisTick: { show: false },
    axisLabel: { inside: true, interval: 0, margin: 3, color: '#222', fontFamily: NW, fontSize: 12.5 } });
  const yi = yAx(gi, ymax, itv, NW, 16, yName(yname, ygap, NW, 20, 23, 'bold', shift));
  const tint = color === RED ? 'rgba(236,31,38,0.16)' : 'rgba(57,83,164,0.18)';
  const stip = { symbol: 'circle', symbolSize: 0.8, color: color === RED ? 'rgba(236,31,38,0.45)' : 'rgba(57,83,164,0.45)', dashArrayX: [1, 2], dashArrayY: [1, 2], rotation: 0 };
  const styles = [{ color: '#fff', borderColor: '#000', borderWidth: 1.5 }, { color: '#fff', borderColor: color, borderWidth: 1.5 }, { color: tint, borderColor: color, borderWidth: 1.5, decal: stip }];
  barSub.forEach((s, k) => series.push({ type: 'bar', name: s + '|' + tag, xAxisIndex: xi, yAxisIndex: yi, barWidth: bw, barGap: gap, silent: true, z: 2,
    data: mean.map(m => m[k]), itemStyle: styles[k] }));
  const eItems = []; mean.forEach((m, g) => m.forEach((v, k) => eItems.push([g, v, err[g][k], k])));
  series.push(errS(xi, yi, eItems, { both: true, cap: 8, lw: 1.2, n: 3, slot: slot, color: k => k === 0 ? '#000' : color, z: 6 }));
  const dItems = []; dots.forEach((gd, g) => gd.forEach((arr, k) => arr.forEach(v => dItems.push([g, v, k]))));
  series.push(dotsS(xi, yi, dItems, { n: 3, slot: slot, s: 5.5, tol: ymax * 0.03, r: 3, shape: 'rect',
    style: k => k === 0 ? { fill: '#000' } : (k === 1 ? { fill: color } : { fill: '#fff', stroke: color, lineWidth: 1.2 }) }));
  series.push(annS(xi, yi, ann));
}
// E line female
T('GLUT3 Female\n7 mos', 195, 1066, { ff: NW, fs: 20, lh: 22 });
behavLine(89, 1101, 210, 139, 25, 5, [
  { name: 'WT|eF', data: eFemWT, err: eFemWTErr, color: '#000' },
  { name: 'GLUT3 cHET|eF', data: eFemHET, err: eFemHETErr, color: RED },
  { name: 'GLUT3 cKO|eF', data: eFemKO, err: eFemKOErr, color: RED, open: true }
], 'Number of Entries', 29, 18, 300, 1093, 16, [
  { t: 'text', x: 2, y: 19.4, text: '*' },
  { t: 'text', x: 3, y: 19.4, text: '***' },
  { t: 'text', x: 4, y: 20.7, text: '***', dx: 4 },
  { t: 'br', x: 4, y: 16.8, y2: 8.1, dx: 12, w: 5 },
  { t: 'text', x: 4, y: 12.2, text: '**', dx: 32 }]);
// E line male
T('GLUT3 Male\n7 mos', 194, 1296, { ff: NW, fs: 20, lh: 22 });
behavLine(89, 1339, 210, 142, 25, 5, [
  { name: 'WT|eM', data: eMalWT, err: eMalWTErr, color: '#000' },
  { name: 'GLUT3 cHET|eM', data: eMalHET, err: eMalHETErr, color: EBLUE },
  { name: 'GLUT3 cKO|eM', data: eMalKO, err: eMalKOErr, color: EBLUE_L, open: true }
], 'Number of Entries', 29, 0, 300, 1329, 16.5, [
  { t: 'text', x: 2, y: 18.3, text: '*' },
  { t: 'br', x: 4, y: 12.2, y2: 6.2, dx: 10, w: 5 },
  { t: 'text', x: 4, y: 9.3, text: '*', dx: 20 }]);
// E bars
T('GLUT3 Female\n7 mos', 575, 1064, { ff: NW, fs: 20, lh: 23 });
behavBar(489, 1097, 174, 153, 20, 5, eFemBarMean, eFemBarErr, eFemBarDots, RED, 23, 20, '15%', 'Number of Entries', 30, 14, 'eFb', [
  { t: 'vline', x: 0, y: 0, y2: 20, fx: 0.5 },
  { t: 'sig', x: 1, x2: 1, dx: -23, dx2: 23, y: 15.7, ya: 15.0, yb: 15.0, lw: 1.3 },
  { t: 'text', x: 1, y: 17.2, text: '**' }]);
T('GLUT3 Male\n7 mos', 572, 1305, { ff: NW, fs: 20, lh: 23 });
behavBar(486, 1338, 177, 156, 15, 5, eMalBarMean, eMalBarErr, eMalBarDots, EBLUE, 23, 20, '15%', 'Number of Entries', 29, 0, 'eMb', [
  { t: 'vline', x: 0, y: 0, y2: 15, fx: 0.5 }]);
// F line female
T('GLUT3 Female\n7mos', 891, 1058, { ff: NW, fs: 20, lh: 22 });
behavLine(786, 1102, 208, 137, 500, 100, [
  { name: 'WT|fF', data: fFemWT, err: fFemWTErr, color: '#000' },
  { name: 'GLUT3 cHET|fF', data: fFemHET, err: fFemHETErr, color: RED },
  { name: 'GLUT3 cKO|fF', data: fFemKO, err: fFemKOErr, color: RED, open: true }
], 'Time of Avoidance\n(sec)', 41, 12, 986, 1075, 15.5, [
  { t: 'text', x: 2, y: 409, text: '*' },
  { t: 'br', x: 4, y: 249, y2: 119, dx: 13, w: 5 },
  { t: 'text', x: 4, y: 190, text: '*', dx: 24 }]);
// F line male
T('GLUT3 Male\n7 mos', 896, 1291, { ff: NW, fs: 20, lh: 22 });
behavLine(788, 1337, 217, 143, 500, 100, [
  { name: 'WT|fM', data: fMalWT, err: fMalWTErr, color: '#000' },
  { name: 'GLUT3 cHET|fM', data: fMalHET, err: fMalHETErr, color: EBLUE },
  { name: 'GLUT3 cKO|fM', data: fMalKO, err: fMalKOErr, color: EBLUE_L, open: true }
], 'Time of Avoidance\n(sec)', 43, 0, 992, 1317, 16.5, [
  { t: 'br', x: 4, y: 290, y2: 128, dx: 13, w: 5 },
  { t: 'text', x: 4, y: 217, text: '*', dx: 22 }]);
// F bars
T('GLUT3 Female\n7 mos', 1309, 1060, { ff: NW, fs: 20, lh: 23 });
behavBar(1224, 1093, 170, 152, 400, 100, fFemBarMean, fFemBarErr, fFemBarDots, RED, 24.5, 20, '22%', 'Time of Avoidance\n(sec)', 41, 12, 'fFb', [
  { t: 'vline', x: 0, y: 0, y2: 400, fx: 0.5 }]);
T('GLUT3 Male\n7 mos', 1308, 1305, { ff: NW, fs: 20, lh: 23 });
behavBar(1221, 1337, 172, 150, 400, 100, fMalBarMean, fMalBarErr, fMalBarDots, EBLUE, 24.5, 20, '22%', 'Time of Avoidance\n(sec)', 36, 0, 'fMb', [
  { t: 'vline', x: 0, y: 0, y2: 400, fx: 0.5 }]);

// ======================= PANELS G / H =======================
T('G', 13, 1547, { fs: 26 });
T('H', 722, 1545, { fs: 26 });
function panelGH(gl, gt, gw, gh, ymax, itv, sets, yname, ygap, unitGap, legLeft, legTop, ann) {
  const gi = G(gl, gt, gw, gh);
  const xi = catX(gi, ghCats, { axisLabel: { color: '#000', fontFamily: NW, fontWeight: 'bold', fontSize: 19, margin: 8, interval: 0 },
    name: ghUnit, nameLocation: 'end', nameGap: unitGap,
    nameTextStyle: { color: '#000', fontFamily: NW, fontWeight: 'bold', fontSize: 19, align: 'left', verticalAlign: 'top', padding: [8, 0, 0, 0] } });
  X({ type: 'category', gridIndex: gi, data: ghGroup, position: 'bottom', offset: 26, axisLine: axLine(2), axisTick: { show: false },
    axisLabel: { color: '#000', fontFamily: NW, fontWeight: 'bold', fontSize: 18, margin: 4 } });
  const yi = yAx(gi, ymax, itv, NW, 18, yName(yname, ygap, NW, 20, 23));
  sets.forEach(s => {
    series.push(errS(xi, yi, toItems(s.data, s.err), { both: false, cap: 7, lw: 1.3, n: 1, color: () => s.color, z: 1 }));
    series.push(lineS(s.name, xi, yi, s.data, s.color, { open: s.open, size: 7 }));
  });
  leg(sets.map(s => s.name), legLeft, legTop, { fs: 17, lh: 23, iw: 16, ih: 8 });
  series.push(annS(xi, yi, ann));
}
T('GLUT3 Female', 161, 1550, { ff: NW, fs: 20 });
panelGH(96, 1581, 128, 170, 600, 200, [
  { name: 'control|gF', data: gFemCtrl, err: gFemCtrlErr, color: '#000' },
  { name: 'GLUT3 cKO|gF', data: gFemKO, err: gFemKOErr, color: RED, open: true }
], 'Number of Entries\n(normalized)', 48, 9, 228, 1570, [{ t: 'text', x: 1, y: 329, text: '*' }]);
T('GLUT3 Male', 513, 1550, { ff: NW, fs: 20 });
panelGH(444, 1583, 134, 170, 600, 200, [
  { name: 'control|gM', data: gMalCtrl, err: gMalCtrlErr, color: '#000' },
  { name: 'GLUT3 cKO|gM', data: gMalKO, err: gMalKOErr, color: BLUE_L, open: true }
], 'Number of Entries\n(normalized)', 44, 5, 580, 1568, []);
T('GLUT3 Female', 876, 1550, { ff: NW, fs: 20 });
panelGH(815, 1577, 126, 174, 150, 50, [
  { name: 'control|hF', data: hFemCtrl, err: hFemCtrlErr, color: '#000' },
  { name: 'GLUT3 cKO|hF', data: hFemKO, err: hFemKOErr, color: RED, open: true }
], 'Time of Avoidance\n(sec)', 47, 5, 936, 1562, []);
T('GLUT3 Male', 1223, 1550, { ff: NW, fs: 20 });
panelGH(1160, 1577, 127, 174, 150, 50, [
  { name: 'control|hM', data: hMalCtrl, err: hMalCtrlErr, color: '#000' },
  { name: 'GLUT3 cKO|hM', data: hMalKO, err: hMalKOErr, color: BLUE_L, open: true }
], 'Time of Avoidance\n(sec)', 44, 5, 1280, 1563, [
  { t: 'br', x: 2, y: 71, y2: 47, dx: 12, w: 5 },
  { t: 'text', x: 2, y: 59.5, text: '*', dx: 23 }]);

// ======================= RENDER =======================
const chart = echarts.init(document.getElementById('chart'), null, { renderer: 'canvas' });
chart.setOption({ animation: false, backgroundColor: '#ffffff', textStyle: { fontFamily: AR },
  grid: grid, xAxis: xAxis, yAxis: yAxis, series: series, legend: legend, graphic: graphic });
</script></body></html>
